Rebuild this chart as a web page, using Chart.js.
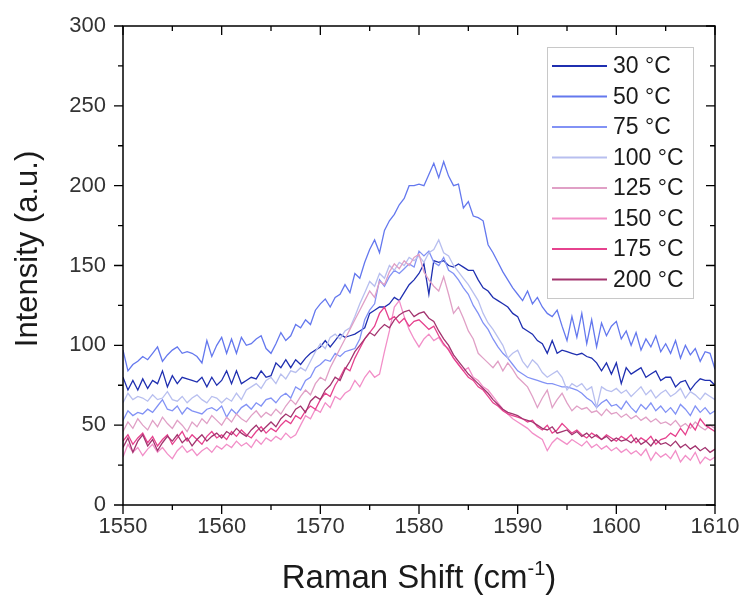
<!DOCTYPE html>
<html>
<head>
<meta charset="utf-8">
<script src="https://cdn.jsdelivr.net/npm/chart.js@4.4.1/dist/chart.umd.min.js"></script>
<style>
  html, body { margin: 0; padding: 0; background: #fff; }
  #chart { display: block; }
</style>
</head>
<body>
<canvas id="chart" width="743" height="598"></canvas>
<script>
const ramanShift = [
  1550, 1550.5, 1551, 1551.5, 1552, 1552.5, 1553, 1553.5, 1554, 1554.5,
  1555, 1555.5, 1556, 1556.5, 1557, 1557.5, 1558, 1558.5, 1559, 1559.5,
  1560, 1560.5, 1561, 1561.5, 1562, 1562.5, 1563, 1563.5, 1564, 1564.5,
  1565, 1565.5, 1566, 1566.5, 1567, 1567.5, 1568, 1568.5, 1569, 1569.5,
  1570, 1570.5, 1571, 1571.5, 1572, 1572.5, 1573, 1573.5, 1574, 1574.5,
  1575, 1575.5, 1576, 1576.5, 1577, 1577.5, 1578, 1578.5, 1579, 1579.5,
  1580, 1580.5, 1581, 1581.5, 1582, 1582.5, 1583, 1583.5, 1584, 1584.5,
  1585, 1585.5, 1586, 1586.5, 1587, 1587.5, 1588, 1588.5, 1589, 1589.5,
  1590, 1590.5, 1591, 1591.5, 1592, 1592.5, 1593, 1593.5, 1594, 1594.5,
  1595, 1595.5, 1596, 1596.5, 1597, 1597.5, 1598, 1598.5, 1599, 1599.5,
  1600, 1600.5, 1601, 1601.5, 1602, 1602.5, 1603, 1603.5, 1604, 1604.5,
  1605, 1605.5, 1606, 1606.5, 1607, 1607.5, 1608, 1608.5, 1609, 1609.5,
  1610
];

const int30 = [
  80, 72, 78, 72, 79, 73, 78, 76, 84, 74,
  81, 76, 80, 79, 78, 77, 80, 74, 80, 75,
  78, 84, 76, 84, 76, 78, 80, 79, 84, 80,
  81, 89, 86, 91, 86, 91, 88, 92, 95, 97,
  99, 103, 99, 103, 107, 105, 106, 107, 109, 111,
  120, 122, 124, 124, 126, 130, 128, 133, 138, 141,
  145, 151, 132, 153, 152, 153, 150, 149, 151, 149,
  147, 147, 141, 136, 134, 130, 128, 126, 124, 120,
  118, 111, 109, 107, 103, 101, 95, 103, 95, 97,
  96, 95, 94, 95, 93, 92, 89, 84, 89, 82,
  89, 76, 86, 82, 84, 86, 80, 82, 84, 78,
  80, 80, 74, 77, 78, 72, 76, 79, 78, 78,
  75
];

const int50 = [
  97, 84, 88, 90, 93, 91, 95, 99, 90, 94,
  97, 99, 95, 96, 95, 93, 89, 103, 93, 100,
  105, 95, 104, 95, 105, 100, 101, 104, 106, 98,
  95, 101, 108, 103, 106, 113, 111, 116, 113, 122,
  126, 129, 124, 130, 132, 138, 133, 145, 142, 152,
  160, 166, 158, 172, 178, 182, 188, 192, 200, 200,
  201, 200, 207, 214, 205, 215, 206, 200, 201, 186,
  190, 181, 180, 178, 163, 158, 152, 146, 141, 136,
  132, 128, 134, 126, 130, 124, 120, 118, 122, 112,
  103, 118, 105, 120, 101, 116, 99, 114, 106, 112,
  115, 104, 109, 100, 108, 97, 104, 99, 106, 96,
  101, 95, 103, 92, 100, 94, 98, 90, 96, 95,
  85
];

const int75 = [
  53, 59, 56, 58, 57, 60, 58, 62, 66, 60,
  59, 62, 57, 61, 59, 58, 57, 60, 61, 59,
  62, 55, 60, 57, 61, 63, 60, 64, 62, 66,
  67, 64, 68, 70, 67, 74, 72, 78, 80, 86,
  88, 91, 90, 95, 93, 96, 97, 98, 104, 116,
  122, 126, 141, 137, 143, 147, 145, 148, 151, 149,
  159, 156, 159, 152, 150, 155, 147, 145, 141, 136,
  132, 125, 120, 114, 110, 104, 99, 95, 92, 88,
  84, 82, 80, 79, 78, 77, 76, 76, 75, 74,
  74, 73, 72, 70, 67, 65, 61, 64, 66, 62,
  63, 60, 65, 61, 58, 63, 60, 64, 59, 62,
  58, 61, 57, 63, 60, 56, 62, 58, 61, 57,
  59
];

const int100 = [
  64, 70, 66, 68, 67, 65, 69, 66, 67, 71,
  66, 65, 68, 64, 67, 69, 66, 64, 68, 67,
  64, 67, 65, 70, 66, 72, 74, 76, 73, 78,
  80, 76, 82, 79, 84, 83, 86, 84, 90, 96,
  101, 98, 105, 107, 104, 109, 111, 118, 126, 133,
  140, 137, 145, 142, 150, 147, 152, 150, 155, 153,
  156, 152, 158, 160, 166, 158, 156, 150, 146, 142,
  138, 133, 128, 120, 114, 110, 105, 100, 92, 95,
  97, 90, 86, 91, 88, 83, 80, 82, 84, 80,
  72, 76, 74, 76, 72, 74, 61, 74, 72, 71,
  73, 70, 72, 68, 71, 74, 69, 72, 67, 70,
  72, 68, 70, 73, 67, 71, 69, 66, 70, 68,
  66
];

const int125 = [
  46, 52, 48, 54, 50, 47, 53, 49, 55, 51,
  48, 53, 50, 46, 52, 49, 54, 51, 56, 53,
  50, 55, 52, 57, 54, 52, 56, 59, 55, 58,
  56, 60, 57, 62, 66, 63, 68, 72, 69, 76,
  80, 78, 86, 92, 98, 104, 110, 116, 122, 128,
  134, 130, 140, 138, 146, 151, 148, 153, 150, 155,
  157, 146, 141, 137, 134, 143, 132, 120, 124, 117,
  109, 104, 95, 92, 89, 86, 90, 84, 89, 85,
  80, 77, 74, 68, 61, 67, 72, 61, 66, 70,
  64, 59, 62, 60, 61, 58, 59, 56, 60, 57,
  58, 55, 57, 54, 56, 53, 55, 52, 54, 51,
  52, 50, 53, 49, 51, 48, 52, 49, 47, 50,
  48
];

const int150 = [
  30, 38, 33, 36, 31, 35, 38, 33, 36, 32,
  29, 34, 37, 33, 35, 31, 34, 36, 33, 37,
  35, 38, 36, 40, 37, 39, 36, 41, 38, 42,
  40, 43, 41, 45, 42, 44, 50, 56, 54, 60,
  58, 64, 61, 68, 66, 70, 72, 78, 74, 80,
  84, 80, 82, 96, 109, 124, 128, 118, 110, 104,
  99, 104, 107, 103, 105, 100, 98, 92, 88, 84,
  86, 80, 78, 74, 72, 68, 64, 60, 57, 54,
  52, 50, 48, 45, 43, 41, 34, 39, 42, 40,
  38, 41, 39, 37, 40, 36, 38, 35, 37, 34,
  36, 33, 35, 32, 34, 31, 35, 28, 33, 30,
  32, 29, 34, 27, 31, 28, 33, 26, 30, 28,
  30
];

const int175 = [
  40, 44, 38, 42, 45, 39, 43, 37, 41, 44,
  38, 42, 46, 40, 44, 41, 38, 43, 46, 42,
  44, 41, 46, 43, 47, 44, 42, 46, 49, 45,
  48, 46, 50, 53, 51, 56, 54, 59, 62, 60,
  66, 70, 68, 75, 80, 86, 84, 92, 98, 104,
  108, 112, 120, 124, 116, 118, 114, 117, 112, 115,
  116, 113, 110, 112, 106, 101, 97, 92, 88, 84,
  80, 78, 74, 72, 68, 64, 62, 59, 57, 56,
  55, 54, 52, 53, 49, 47, 50, 45, 47, 51,
  48, 45, 47, 44, 42, 45, 43, 41, 44, 42,
  40, 43, 41, 44, 39, 42, 40, 43, 38, 41,
  42, 45, 43, 48, 44, 51, 47, 54, 50, 48,
  46
];

const int200 = [
  36, 42, 33, 40, 44, 37, 41, 34, 39, 43,
  40, 44, 39, 42, 37, 41, 44, 40, 43, 45,
  42, 46, 44, 48, 45, 43, 47, 50, 46, 49,
  52, 49, 54, 57, 55, 60, 62, 58, 65, 68,
  66, 72, 75, 80, 78, 85, 90, 96, 100, 104,
  108, 106, 110, 113, 111, 116, 119, 121, 122, 118,
  120, 121, 117, 115, 109, 104, 100, 94, 90, 86,
  82, 79, 76, 73, 70, 66, 63, 60, 58, 57,
  56, 54, 53, 52, 50, 48, 47, 49, 45, 46,
  47, 44, 46, 43, 45, 42, 44, 41, 43, 40,
  42, 40, 41, 39, 42, 38, 40, 37, 41, 38,
  39, 37, 40, 36, 38, 35, 37, 34, 36, 33,
  35
];

const seriesLabels = ['30 °C', '50 °C', '75 °C', '100 °C', '125 °C', '150 °C', '175 °C', '200 °C'];
const seriesColors = ['#1f2fb0', '#6478ee', '#8292f5', '#b8bfef', '#e0a0c6', '#f28fc8', '#e6428e', '#a3346f'];
const seriesValues = [int30, int50, int75, int100, int125, int150, int175, int200];

const xTicks = [1550, 1560, 1570, 1580, 1590, 1600, 1610];
const yTicks = [0, 50, 100, 150, 200, 250, 300];

const FONT = '"Liberation Sans", Arial, Helvetica, sans-serif';

const datasets = seriesValues.map((vals, i) => ({
  label: seriesLabels[i],
  data: vals.map((v, j) => ({ x: ramanShift[j], y: v })),
  borderColor: seriesColors[i],
  borderWidth: 1.3,
  pointRadius: 0,
  tension: 0,
  fill: false,
  order: seriesValues.length - i
}));

// frame, minor/major ticks, titles and legend box
const decorations = {
  id: 'decorations',
  afterDatasetsDraw(chart) {
    const { ctx, chartArea: a, scales: { x, y } } = chart;
    ctx.save();
    ctx.strokeStyle = '#000';
    ctx.lineWidth = 1.5;
    ctx.strokeRect(a.left, a.top, a.right - a.left, a.bottom - a.top);

    ctx.lineWidth = 1.3;
    ctx.beginPath();
    for (let v = 1550; v <= 1610; v += 5) {
      const px = x.getPixelForValue(v);
      const len = v % 10 === 0 ? 9 : 5;
      ctx.moveTo(px, a.bottom); ctx.lineTo(px, a.bottom + len);
      ctx.moveTo(px, a.top); ctx.lineTo(px, a.top + len);
    }
    for (let v = 0; v <= 300; v += 25) {
      const py = y.getPixelForValue(v);
      const len = v % 50 === 0 ? 9 : 5;
      ctx.moveTo(a.left - len, py); ctx.lineTo(a.left, py);
      ctx.moveTo(a.right - len, py); ctx.lineTo(a.right, py);
    }
    ctx.stroke();

    // y title
    ctx.fillStyle = '#1a1a1a';
    ctx.font = '31px ' + FONT;
    ctx.save();
    ctx.translate(37, 249);
    ctx.rotate(-Math.PI / 2);
    ctx.textAlign = 'center';
    ctx.textBaseline = 'alphabetic';
    ctx.fillText('Intensity (a.u.)', 0, 0);
    ctx.restore();

    // x title with superscript
    const main = 'Raman Shift (cm';
    const sup = '-1';
    const close = ')';
    ctx.font = '33px ' + FONT;
    const wMain = ctx.measureText(main).width;
    const wClose = ctx.measureText(close).width;
    ctx.font = '20px ' + FONT;
    const wSup = ctx.measureText(sup).width;
    const total = wMain + wSup + wClose;
    let tx = (a.left + a.right) / 2 - total / 2;
    const base = 588;
    ctx.textAlign = 'left';
    ctx.textBaseline = 'alphabetic';
    ctx.font = '33px ' + FONT;
    ctx.fillText(main, tx, base);
    tx += wMain;
    ctx.font = '20px ' + FONT;
    ctx.fillText(sup, tx, base - 13);
    tx += wSup;
    ctx.font = '33px ' + FONT;
    ctx.fillText(close, tx, base);

    // legend
    const lx = 547.5, ly = 47.5, lw = 146, lh = 251;
    ctx.fillStyle = '#fff';
    ctx.fillRect(lx, ly, lw, lh);
    ctx.strokeStyle = '#c8c8c8';
    ctx.lineWidth = 1;
    ctx.strokeRect(lx, ly, lw, lh);
    ctx.font = '23px ' + FONT;
    ctx.textBaseline = 'middle';
    seriesLabels.forEach((label, i) => {
      const ry = 66 + i * 30.5;
      ctx.strokeStyle = seriesColors[i];
      ctx.lineWidth = 2;
      ctx.beginPath();
      ctx.moveTo(552, ry);
      ctx.lineTo(607, ry);
      ctx.stroke();
      ctx.fillStyle = '#1a1a1a';
      ctx.fillText(label, 613, ry + 1);
    });
    ctx.restore();
  }
};

new Chart(document.getElementById('chart'), {
  type: 'line',
  data: { datasets },
  options: {
    responsive: false,
    animation: false,
    devicePixelRatio: 1,
    layout: { padding: { left: 0, top: 26, right: 28, bottom: 0 } },
    plugins: { legend: { display: false }, tooltip: { enabled: false } },
    scales: {
      x: {
        type: 'linear',
        min: 1550,
        max: 1610,
        afterBuildTicks: (scale) => { scale.ticks = xTicks.map(v => ({ value: v })); },
        afterFit: (scale) => { scale.height = 93; scale.paddingLeft = 0; scale.paddingRight = 0; },
        grid: { display: false, drawTicks: false },
        border: { display: false },
        ticks: {
          padding: 9,
          color: '#333',
          font: { family: FONT, size: 22 },
          maxRotation: 0,
          callback: (v) => String(v)
        }
      },
      y: {
        type: 'linear',
        min: 0,
        max: 300,
        afterBuildTicks: (scale) => { scale.ticks = yTicks.map(v => ({ value: v })); },
        afterFit: (scale) => { scale.width = 123; scale.paddingTop = 0; scale.paddingBottom = 0; },
        grid: { display: false, drawTicks: false },
        border: { display: false },
        ticks: {
          padding: 17,
          color: '#333',
          font: { family: FONT, size: 22 },
          callback: (v) => String(v)
        }
      }
    }
  },
  plugins: [decorations]
});
</script>
</body>
</html>
